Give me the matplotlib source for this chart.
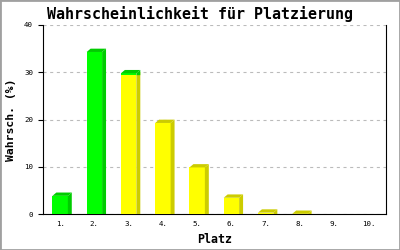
import matplotlib
matplotlib.use("Agg")
import matplotlib.pyplot as plt
from matplotlib.patches import Polygon, Rectangle
import numpy as np

# chart data
places = ["1.", "2.", "3.", "4.", "5.", "6.", "7.", "8.", "9.", "10."]
yellow = [0, 0, 29.4, 19.3, 9.9, 3.5, 0.35, 0.1, 0, 0]
green = [3.9, 34.3, 0.4, 0, 0, 0, 0, 0, 0, 0]

plt.rcParams['font.family'] = ['DejaVu Sans Mono']
plt.rcParams['lines.scale_dashes'] = False

fig = plt.figure(figsize=(4, 2.5), dpi=100)
ax = fig.add_axes([0.1075, 0.1428, 0.8565, 0.7572])

x = np.arange(1, len(places) + 1)
w = 0.45
dx, dy = 0.115, 0.7

front = {"y": "#ffff00", "g": "#00ff00"}
dark = {"y": "#cccc00", "g": "#00cc00"}


def draw_seg(xc, b, h, key, top_face):
    ax.bar(xc, h, bottom=b, width=w, color=front[key], linewidth=0, zorder=3)
    xr = xc + w / 2
    xl = xc - w / 2
    t = b + h
    ax.add_patch(Polygon([(xr, b), (xr + dx, b), (xr + dx, t + dy), (xr, t)],
                         closed=True, facecolor=dark[key], linewidth=0, zorder=3))
    if top_face:
        ax.add_patch(Polygon([(xl, t), (xl + dx, t + dy), (xr + dx, t + dy), (xr, t)],
                             closed=True, facecolor=dark[key], linewidth=0, zorder=3))


for i in range(len(places)):
    yv, gv = yellow[i], green[i]
    if yv > 0:
        draw_seg(x[i], 0, yv, "y", gv == 0)
    if gv > 0:
        draw_seg(x[i], yv, gv, "g", True)

ax.set_xlim(0.5, 10.5)
ax.set_ylim(0, 40)
ax.set_yticks([0, 10, 20, 30, 40])
ax.set_xticks(x)
ax.set_xticklabels(places)
ax.tick_params(axis="y", labelsize=5.4, length=3.6, width=0.8, pad=3.5)
ax.tick_params(axis="x", labelsize=5.4, length=0, pad=5)
ax.grid(axis="y", color="#bbbbbb", linestyle=(0, (2.2, 2.6)), linewidth=0.8)
ax.set_axisbelow(True)
ax.spines["top"].set_visible(False)
for s in ["left", "bottom", "right"]:
    ax.spines[s].set_linewidth(0.8)

ax.set_xlabel("Platz", fontsize=8.4, fontweight="bold", labelpad=4)
ax.set_ylabel("Wahrsch. (%)", fontsize=8.2, fontweight="bold", labelpad=6)
fig.text(0.5, 0.944, "Wahrscheinlichkeit für Platzierung", ha="center", va="center",
         fontsize=10.8, fontweight="bold")

fig.patches.append(Rectangle((0, 0), 1, 1, transform=fig.transFigure, fill=False,
                             edgecolor="#a0a0a0", linewidth=2))

fig.savefig("out.png", dpi=100)
